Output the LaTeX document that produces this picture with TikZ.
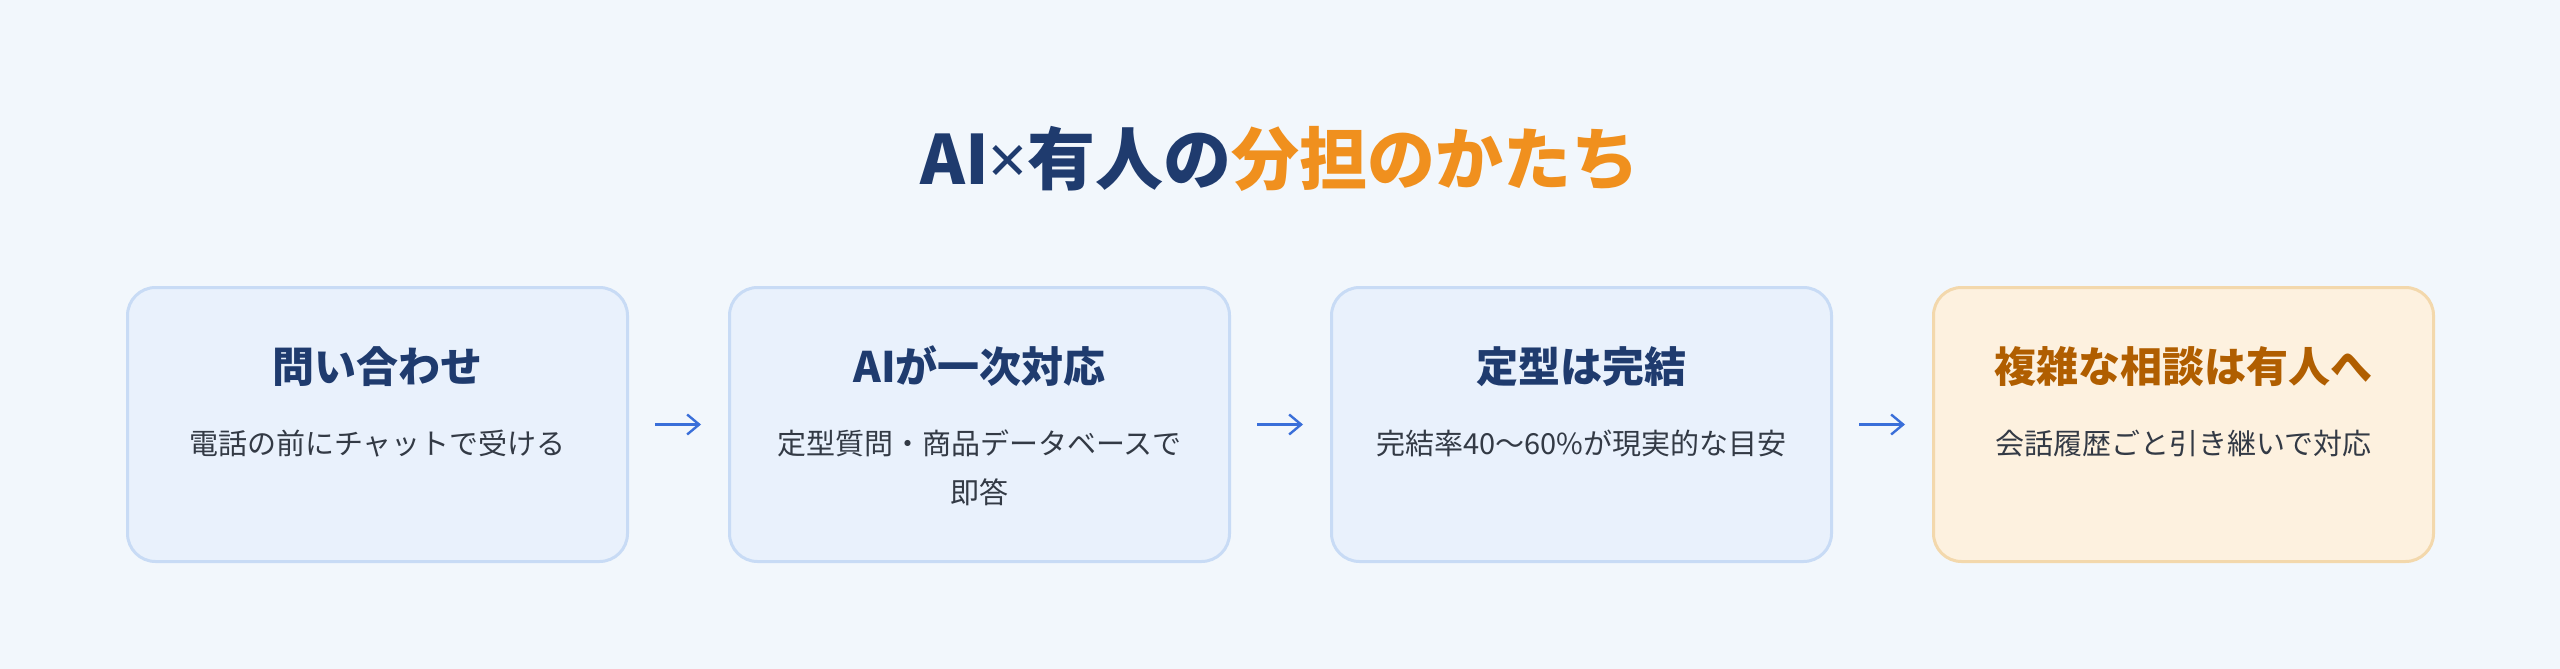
\documentclass[tikz,border=0pt]{standalone}
\usepackage{fontspec}
\setmainfont{Noto Sans CJK JP}
\newfontfamily\latinsans{Noto Sans}
\usetikzlibrary{arrows.meta}
\definecolor{bgc}{HTML}{F2F7FC}
\definecolor{navy}{HTML}{1F3B6E}
\definecolor{orng}{HTML}{F0901E}
\definecolor{boxfill}{HTML}{E9F1FC}
\definecolor{boxline}{HTML}{C8DBF5}
\definecolor{hfill}{HTML}{FDF1DF}
\definecolor{hline}{HTML}{F3D8AC}
\definecolor{htext}{HTML}{B05E00}
\definecolor{subc}{HTML}{333A45}
\definecolor{arrc}{HTML}{3A6FD9}
\tikzset{
  card/.style={draw=boxline, fill=boxfill, line width=1.5pt, rounded corners=14pt,
    minimum width=250pt, minimum height=137pt, inner sep=0pt},
  hcard/.style={card, draw=hline, fill=hfill},
  cardtitle/.style={anchor=base, inner sep=0pt, text=navy, font=\fontsize{21}{25}\selectfont\bfseries},
  hcardtitle/.style={cardtitle, text=htext},
  cardsub/.style={anchor=base, inner sep=0pt, text=subc, font=\fontsize{14.5}{18}\selectfont},
  flow/.style={draw=arrc, line width=1.2pt, -{Straight Barb[length=6pt,width=10pt,line width=1.2pt]},
    shorten <=13pt, shorten >=13.5pt}
}
\begin{document}
\begin{tikzpicture}[x=0.5pt,y=-0.5pt]
\fill[bgc] (0,0) rectangle (2560,669);
\useasboundingbox (0,0) rectangle (2560,669);
\node[anchor=base, inner sep=0pt, font=\fontsize{34}{40}\selectfont\bfseries] (title) at (1280,184)
  {\textcolor{navy}{AI{\latinsans\bfseries ×}有人の}\textcolor{orng}{分担のかたち}};
\node[card] (b1) at (377.5,424.5) {};
\node[card] (b2) at (979.5,424.5) {};
\node[card] (b3) at (1581.5,424.5) {};
\node[hcard] (b4) at (2183.5,424.5) {};
\node[cardtitle] (t1) at (377.5,382) {問い合わせ};
\node[cardsub] (s1) at (377.5,454) {電話の前にチャットで受ける};
\node[cardtitle] (t2) at (979.5,382) {AIが一次対応};
\node[cardsub] (s2) at (979.5,454) {定型質問・商品データベースで};
\node[cardsub] (s2b) at (979.5,503) {即答};
\node[cardtitle] (t3) at (1581.5,382) {定型は完結};
\node[cardsub] (s3) at (1581.5,454) {完結率40〜60\%が現実的な目安};
\node[hcardtitle] (t4) at (2183.5,382) {複雑な相談は有人へ};
\node[cardsub] (s4) at (2183.5,454) {会話履歴ごと引き継いで対応};
\draw[flow] (b1.east) -- (b2.west);
\draw[flow] (b2.east) -- (b3.west);
\draw[flow] (b3.east) -- (b4.west);
\end{tikzpicture}
\end{document}
